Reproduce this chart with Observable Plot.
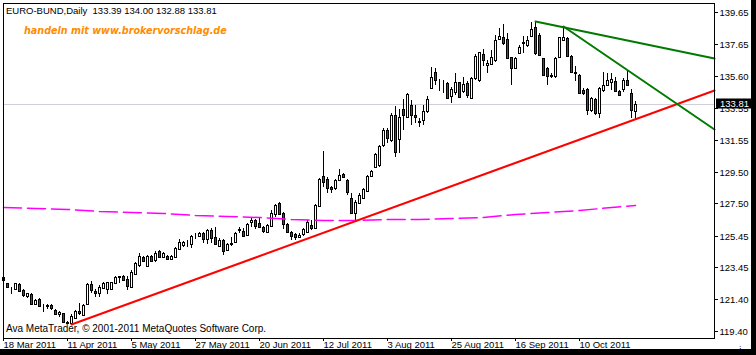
<!DOCTYPE html>
<html>
<head>
<meta charset="utf-8">
<script src="https://cdn.jsdelivr.net/npm/d3@7"></script>
<script src="https://cdn.jsdelivr.net/npm/@observablehq/plot@0.6"></script>
<style>
  html, body { margin: 0; padding: 0; background: white; }
  svg text { white-space: pre; }
</style>
</head>
<body>
<div id="chart"></div>
<script>
// ---- Data (EURO-BUND daily, 18 Mar 2011 .. 28 Oct 2011) ----
const open = [122.64,122.43,122.16,122.05,122.36,122.00,121.62,121.75,121.11,121.41,
121.05,121.00,121.05,120.73,120.48,120.52,119.94,119.89,120.25,120.67,
120.42,121.11,122.36,121.94,121.79,122.15,122.07,122.05,122.47,122.86,
122.89,122.70,122.21,123.02,123.59,124.12,123.55,124.16,123.91,124.50,
124.08,124.16,123.95,124.12,124.58,124.86,124.96,124.92,125.43,125.45,
125.60,125.22,125.81,125.35,124.82,125.18,124.54,124.90,125.07,125.81,
125.77,125.49,126.35,126.45,126.23,126.02,125.71,126.09,126.81,127.50,
126.87,126.19,125.71,125.56,125.39,125.54,125.71,126.13,125.92,127.34,
129.24,129.05,128.56,128.46,128.99,129.37,128.99,127.82,126.87,127.55,
127.82,128.31,129.26,129.83,129.94,131.21,132.16,131.52,133.11,131.57,
133.47,133.01,133.75,133.13,132.73,132.79,133.37,134.80,135.86,135.35,
135.08,135.17,134.32,134.59,135.19,134.63,135.12,134.17,135.44,135.33,
137.00,136.29,136.35,136.60,137.94,138.09,137.92,136.77,136.07,137.07,
137.70,137.55,138.15,138.72,138.19,136.71,136.07,135.56,135.59,136.82,
137.90,137.98,136.86,135.82,135.65,134.70,134.75,133.43,134.11,133.22,
134.70,135.02,135.23,135.27,134.66,134.74,135.31,134.49,133.39];
const high = [123.10,122.47,122.21,122.47,122.47,122.07,121.83,121.79,121.43,121.49,
121.11,121.11,121.11,120.80,120.69,120.56,120.06,120.48,120.73,121.16,
121.11,122.47,122.57,122.05,122.32,122.53,122.53,122.53,122.89,122.89,
122.93,122.89,123.27,123.80,124.33,124.16,124.23,124.23,124.50,124.54,
124.43,124.23,124.22,124.71,125.22,125.11,125.18,125.49,125.64,125.66,
125.66,125.88,125.96,125.98,125.28,125.24,124.97,125.35,125.66,126.02,
125.96,126.23,126.55,126.51,126.55,126.09,126.19,127.08,127.46,127.57,
126.94,126.23,125.77,125.64,125.60,125.96,126.45,126.43,127.46,129.09,
130.85,129.20,128.63,129.05,129.66,129.45,129.03,128.18,127.72,128.14,
128.46,129.30,129.62,130.68,131.21,132.27,132.27,133.22,133.68,133.50,
134.11,134.53,134.07,133.75,132.94,133.75,134.32,136.18,136.12,135.40,
135.33,135.23,134.91,135.80,135.23,135.55,135.27,135.50,136.97,137.13,
137.30,136.60,137.24,138.19,138.61,138.89,138.30,136.82,136.82,137.55,
138.13,138.15,139.04,139.10,138.30,136.75,136.14,135.76,136.82,138.09,
138.73,138.09,136.92,136.22,135.72,134.81,134.81,134.23,134.17,134.87,
135.86,135.76,135.80,135.55,134.70,135.44,135.97,134.74,134.00];
const low = [122.47,122.11,121.75,122.00,121.92,121.58,121.47,121.05,121.05,120.94,
120.58,120.78,120.73,120.42,120.31,119.89,119.82,119.84,120.16,120.42,
120.37,121.05,121.79,121.58,121.58,122.11,121.75,122.00,122.43,122.47,
122.60,122.00,122.11,122.96,123.48,123.80,123.48,123.80,123.80,124.01,
124.02,123.90,123.93,124.01,124.54,124.75,124.71,124.65,125.22,125.39,
124.97,124.90,124.97,124.86,124.75,124.22,124.50,124.80,125.01,125.64,
125.39,125.43,126.02,125.85,125.98,125.64,125.64,126.02,126.66,126.77,
125.85,125.64,125.18,125.16,125.28,125.43,125.60,125.81,125.85,127.30,
128.56,128.14,128.14,128.35,128.92,129.09,128.03,126.83,126.45,127.51,
127.76,128.25,129.20,129.77,129.83,131.10,131.31,131.42,130.47,130.70,
132.16,132.90,132.48,132.58,132.37,132.48,133.26,134.74,135.02,134.65,
134.49,134.15,133.85,134.38,134.21,134.53,134.17,134.13,135.33,135.23,
136.20,135.76,136.29,136.50,137.87,137.55,136.65,135.02,136.01,136.99,
137.03,137.45,138.09,136.92,136.86,135.59,135.02,135.46,135.44,136.71,
137.82,136.82,135.80,135.29,134.43,134.38,133.11,133.32,133.11,132.90,
134.59,134.96,134.70,134.59,134.32,134.59,134.98,132.90,132.88];
const close = [122.85,122.17,122.15,122.43,121.96,121.69,121.79,121.11,121.37,120.99,
121.06,121.05,120.84,120.48,120.58,119.99,119.93,120.37,120.67,120.52,
121.05,122.36,122.00,121.79,122.21,122.47,122.49,122.49,122.85,122.85,
122.64,122.28,123.17,123.70,124.16,123.87,124.16,123.87,124.37,124.12,
124.37,123.97,124.18,124.65,125.03,125.03,124.99,125.45,125.45,125.60,
125.22,125.81,125.28,124.92,125.18,124.50,124.90,125.01,125.60,125.90,
125.43,126.17,126.45,126.09,126.02,125.77,126.13,126.87,127.40,126.81,
126.17,125.71,125.43,125.39,125.49,125.85,126.34,125.96,127.40,129.03,
128.88,128.46,128.39,128.99,129.30,129.15,128.25,126.87,127.61,128.03,
128.39,129.24,129.56,130.62,131.14,132.16,131.63,133.11,130.78,133.01,
133.11,134.45,133.11,132.99,132.65,133.37,134.11,135.50,135.33,135.33,
135.10,134.21,134.74,135.19,134.28,135.06,134.38,135.44,136.86,137.09,
136.60,136.39,136.77,137.87,138.13,137.66,136.71,136.07,136.75,137.45,
137.77,137.87,138.55,137.03,136.92,135.65,135.59,135.65,136.71,138.04,
138.04,136.86,135.86,135.80,134.49,134.49,133.43,134.17,133.26,134.80,
135.02,135.33,135.38,134.64,134.38,135.33,135.04,133.43,133.81];

// Dashed moving average, read every 8 bars (bar index, value)
const maBars   = [0,8,16,24,32,40,48,56,64,72,80,88,96,104,112,120,128,136,144,152,158];
const maValues = [127.25,127.19,127.13,127.04,126.96,126.90,126.77,126.70,126.62,126.51,
                  126.45,126.45,126.49,126.51,126.57,126.66,126.83,126.96,127.08,127.27,127.40];

// Trend lines: two anchors each (bar index, price), drawn as rays to the right
const redAnchors    = [[17,119.84],[158,132.88]];
const greenAnchorsA = [[133,139.10],[140,138.73]];
const greenAnchorsB = [[140,138.73],[156,135.97]];

const yTicks = [139.65,137.65,135.60,133.55,131.55,129.50,127.50,125.45,123.45,121.40,119.40];
const xTickDates = ["2011-03-18","2011-04-11","2011-05-05","2011-05-27","2011-06-20",
                    "2011-07-12","2011-08-03","2011-08-25","2011-09-16","2011-10-10"];
const holidays = ["2011-04-22","2011-04-25"];

const titleText = "EURO-BUND,Daily  133.39 134.00 132.88 133.81";
const promoText = "handeln mit www.brokervorschlag.de";
const copyText  = "Ava MetaTrader, \u00A9 2001-2011 MetaQuotes Software Corp.";

// ---- Build table ----
const iso = d3.timeFormat("%Y-%m-%d");
const dates = [];
{
  let d = new Date(2011, 2, 18);
  while (dates.length < open.length) {
    const wd = d.getDay();
    if (wd !== 0 && wd !== 6 && !holidays.includes(iso(d))) dates.push(new Date(d));
    d.setDate(d.getDate() + 1);
  }
}
const bars = open.map((o, i) => ({i, date: dates[i], open: o, high: high[i], low: low[i], close: close[i]}));
const xTicks = xTickDates.map(s => dates.findIndex(d => iso(d) === s));
const labelFmt = d3.timeFormat("%-d %b %Y");

const xMax = 177.75;
function ray(anchors) {
  const [[i0, p0], [i1, p1]] = anchors;
  const slope = (p1 - p0) / (i1 - i0);
  return [{i: i0, p: p0}, {i: xMax, p: p0 + slope * (xMax - i0)}];
}
const ma = maBars.map((b, k) => ({i: b, p: maValues[k]}));
const last = close[close.length - 1];

const chart = Plot.plot({
  width: 756,
  height: 355,
  marginLeft: 3,
  marginTop: 3,
  marginRight: 42,
  marginBottom: 17,
  x: {type: "linear", domain: [0, xMax], range: [3, 714], round: true, axis: null},
  y: {domain: [119.40, 139.65], range: [331, 12], round: true, axis: null},
  style: {fontFamily: "Liberation Sans, Arial, sans-serif", fontSize: "9.5px", background: "white", color: "black", overflow: "visible"},
  marks: [
    Plot.ruleY([last], {stroke: "#d0d0da", strokeWidth: 1, shapeRendering: "crispEdges"}),
    Plot.ruleX(bars, {x: "i", y1: "low", y2: "high", stroke: "black", strokeWidth: 1, shapeRendering: "crispEdges"}),
    Plot.rect(bars, {
      x1: d => d.i - 0.25, x2: d => d.i + 0.25,
      y1: "open", y2: "close",
      fill: d => d.close >= d.open ? "white" : "#ff0000",
      stroke: "black", strokeWidth: 1, inset: 0, shapeRendering: "crispEdges"
    }),
    Plot.line(ma, {x: "i", y: "p", stroke: "#ff00ff", strokeWidth: 1.5, strokeDasharray: "18,6"}),
    Plot.line(ray(redAnchors), {x: "i", y: "p", stroke: "#ff0000", strokeWidth: 2}),
    Plot.line(ray(greenAnchorsA), {x: "i", y: "p", stroke: "#007a00", strokeWidth: 2}),
    Plot.line(ray(greenAnchorsB), {x: "i", y: "p", stroke: "#007a00", strokeWidth: 2}),
    Plot.frame({stroke: "black", shapeRendering: "crispEdges"}),
    Plot.axisY(yTicks, {anchor: "right", tickSize: 3, tickPadding: 2, tickFormat: d => d.toFixed(2), fill: "black"}),
    Plot.axisX(xTicks, {anchor: "bottom", tickSize: 3, tickPadding: 0, textAnchor: "start", dx: 0, tickFormat: i => labelFmt(dates[i]), fill: "black"})
  ]
});

document.getElementById("chart").appendChild(chart);

// ---- Decorations: texts, price tag, outer border ----
const svg = d3.select(chart);
const yS = chart.scale("y");
const yLast = Math.round(yS.apply(last));
const deco = svg.append("g").attr("text-anchor", "start");

deco.append("rect").attr("x", 716).attr("y", yLast - 5.5).attr("width", 36).attr("height", 10).attr("fill", "black");
deco.append("text").attr("x", 720).attr("y", yLast).attr("dy", "0.35em")
  .attr("fill", "white").attr("font-size", "9.5px").text(last.toFixed(2));

deco.append("text").attr("x", 6).attr("y", 14).attr("fill", "black").attr("font-size", "9.5px").text(titleText);
deco.append("text").attr("x", 24).attr("y", 34).attr("fill", "#ff8c00")
  .attr("font-family", "DejaVu Sans").attr("font-weight", "bold").attr("font-style", "italic")
  .attr("font-size", "9.6px").text(promoText);
deco.append("text").attr("x", 6).attr("y", 331.5).attr("fill", "black").attr("font-size", "10px").text(copyText);

deco.append("rect").attr("x", 751).attr("y", 0).attr("width", 5).attr("height", 355).attr("fill", "black");
deco.append("rect").attr("x", 0).attr("y", 349).attr("width", 756).attr("height", 6).attr("fill", "black");
</script>
</body>
</html>
